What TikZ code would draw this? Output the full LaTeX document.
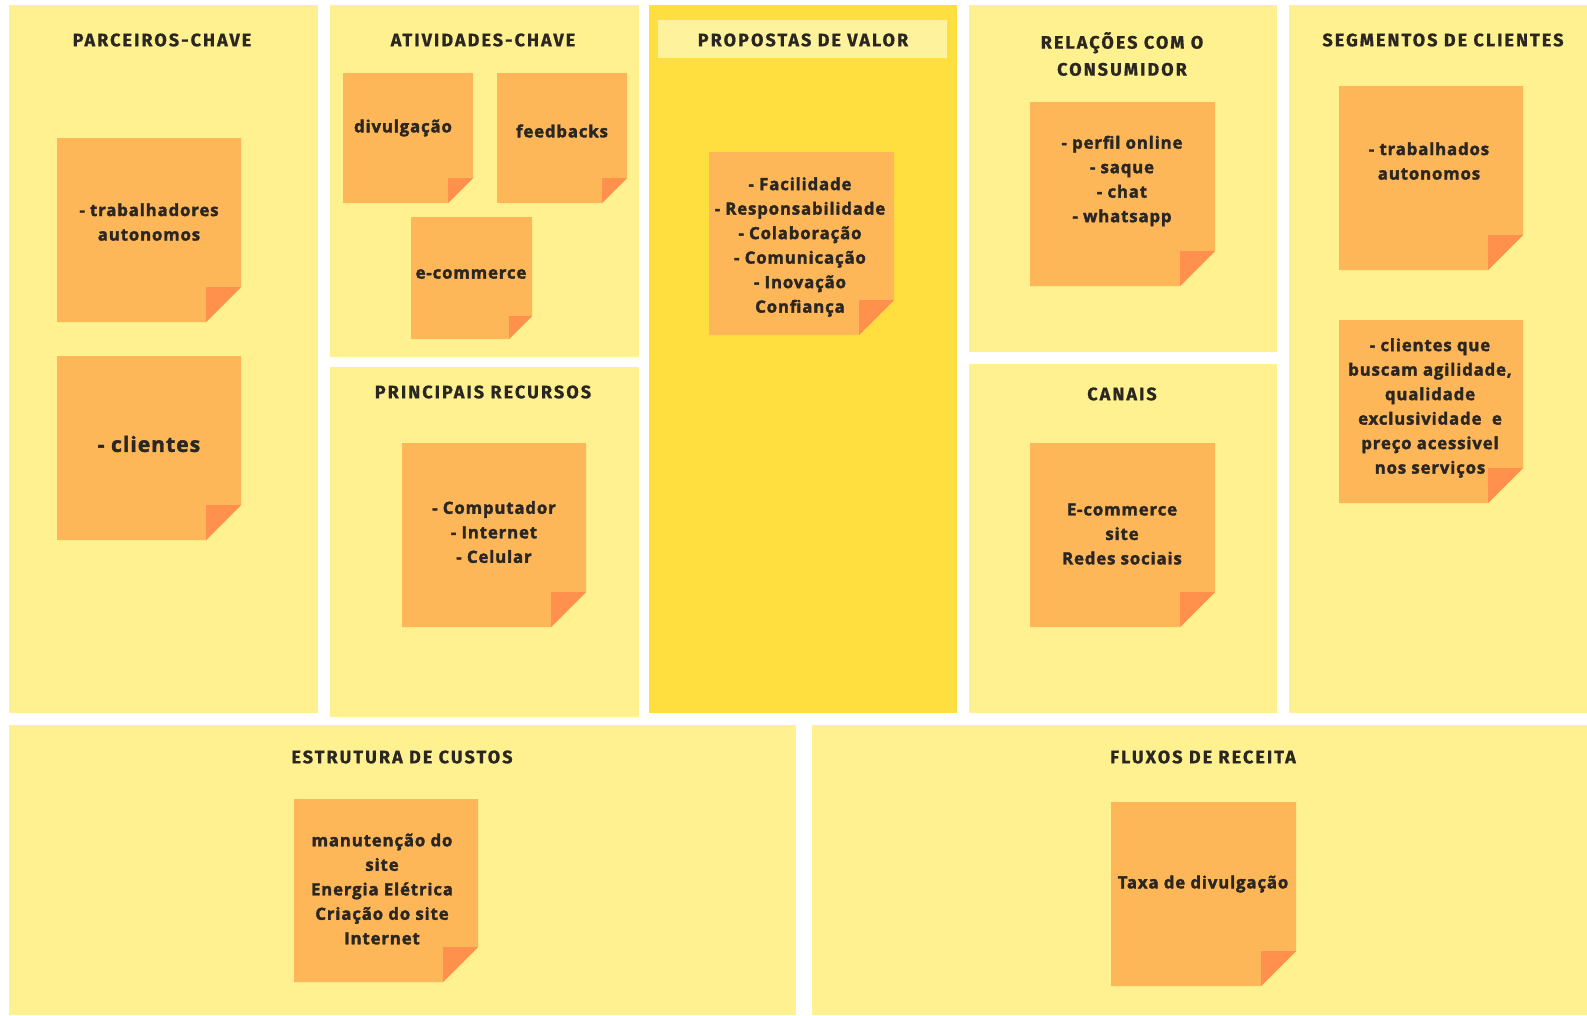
\documentclass[tikz,border=0pt]{standalone}
\usepackage{fontspec}
\setmainfont{Open Sans}
\newfontfamily\notefont{Open Sans}[LetterSpace=5, BoldFeatures={FakeBold=2}]
\newfontfamily\headfont{Fira Sans}[LetterSpace=11.5, BoldFeatures={FakeBold=0.8}]
\definecolor{panelc}{HTML}{FFF18F}
\definecolor{valuec}{HTML}{FFDE40}
\definecolor{bandc}{HTML}{FFF29C}
\definecolor{notec}{HTML}{FDB759}
\definecolor{foldc}{HTML}{FF914D}
\definecolor{ink}{HTML}{2A2622}
\tikzset{
  panel/.style={fill=panelc, draw=none},
  head/.style={font=\headfont\bfseries\fontsize{18}{27}\selectfont, text=ink, align=center, inner sep=0pt},
  notetxt/.style={font=\notefont\bfseries\fontsize{16.8}{24.5}\selectfont, text=ink, align=center, inner sep=0pt},
  bignotetxt/.style={notetxt, font=\notefont\bfseries\fontsize{21}{24}\selectfont},
}
% sticky note: corners (x1,y1) (x2,y2), folded corner of size #5
\newcommand\stickynote[5]{%
  \fill[notec] (#1,#2) -- (#3,#2) -- (#3,#4-#5) -- (#3-#5,#4) -- (#1,#4) -- cycle;
  \fill[foldc] (#3,#4-#5) -- (#3-#5,#4) -- (#3-#5,#4-#5) -- cycle;
}
\begin{document}
\begin{tikzpicture}[x=1pt, y=-1pt]
\useasboundingbox (0,0) rectangle (1587,1015);
\fill[white] (0,0) rectangle (1587,1015);

% canvas blocks
\fill[panel] (9,5) rectangle (318,713);
\fill[panel] (330,5) rectangle (639,357);
\fill[panel] (330,367) rectangle (639,717);
\fill[valuec] (649,5) rectangle (957,713);
\fill[bandc] (658,20) rectangle (947,58);
\fill[panel] (969,5) rectangle (1277,352);
\fill[panel] (969,364) rectangle (1277,713);
\fill[panel] (1289,5) rectangle (1587,713);
\fill[panel] (9,725) rectangle (796,1015);
\fill[panel] (812,725) rectangle (1587,1015);

% block titles
\node[head] (hParc) at (162,40) {PARCEIROS-CHAVE};
\node[head] (hAtiv) at (483,40) {ATIVIDADES-CHAVE};
\node[head] (hProp) at (803,40) {PROPOSTAS DE VALOR};
\node[head] (hRel) at (1122,54) {RELAÇÕES COM O\\CONSUMIDOR};
\node[head] (hSeg) at (1443,40) {SEGMENTOS DE CLIENTES};
\node[head] (hRec) at (483,392) {PRINCIPAIS RECURSOS};
\node[head] (hCan) at (1122,394) {CANAIS};
\node[head] (hCus) at (402,757) {ESTRUTURA DE CUSTOS};
\node[head] (hRece) at (1203,757) {FLUXOS DE RECEITA};

% key partners
\stickynote{57}{138}{241}{322}{35}
\node[notetxt] (nParc1) at (149,222) {- trabalhadores\\autonomos};
\stickynote{57}{356}{241}{540}{35}
\node[bignotetxt] (nParc2) at (149,444) {- clientes};

% key activities
\stickynote{343}{73}{473}{203}{25}
\node[notetxt] (nAtiv1) at (403,128) {divulgação};
\stickynote{497}{73}{627}{203}{25}
\node[notetxt] (nAtiv2) at (562,131) {feedbacks};
\stickynote{411}{217}{532}{339}{23}
\node[notetxt] (nAtiv3) at (471,274) {e-commerce};

% key resources
\stickynote{402}{443}{586}{627}{35}
\node[notetxt] (nRec) at (494,532) {- Computador\\- Internet\\- Celular};

% value propositions
\stickynote{709}{152}{894}{335}{35}
\node[notetxt] (nProp) at (800,247) {- Facilidade\\- Responsabilidade\\- Colaboração\\- Comunicação\\- Inovação\\Confiança};

% customer relationships
\stickynote{1030}{102}{1215}{286}{35}
\node[notetxt] (nRel) at (1122,181) {- perfil online\\- saque\\- chat\\- whatsapp};

% channels
\stickynote{1030}{443}{1215}{627}{35}
\node[notetxt] (nCan) at (1122,534) {E-commerce\\site\\Redes sociais};

% customer segments
\stickynote{1339}{86}{1523}{270}{35}
\node[notetxt] (nSeg1) at (1429,161) {- trabalhados\\autonomos};
\stickynote{1339}{320}{1523}{503}{35}
\node[notetxt] (nSeg2) at (1430,408) {- clientes que\\buscam agilidade,\\qualidade\\exclusividade\ \ e\\preço acessivel\\nos serviços};

% cost structure
\stickynote{294}{799}{478}{982}{35}
\node[notetxt] (nCus) at (382,889) {manutenção do\\site\\Energia Elétrica\\Criação do site\\Internet};

% revenue streams
\stickynote{1111}{802}{1296}{986}{35}
\node[notetxt] (nRece) at (1203,884) {Taxa de divulgação};
\end{tikzpicture}
\end{document}
